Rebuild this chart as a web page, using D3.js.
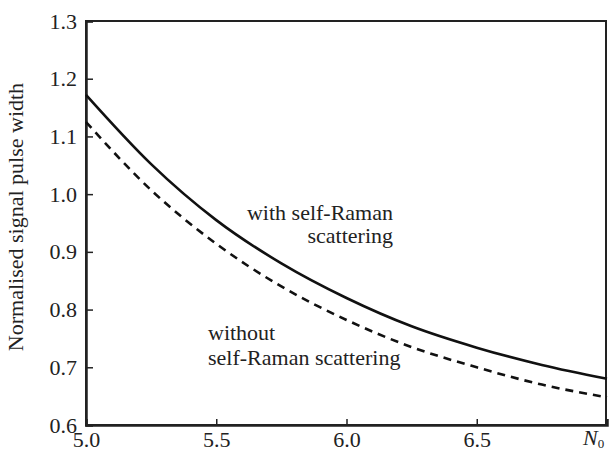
<!DOCTYPE html>
<html>
<head>
<meta charset="utf-8">
<script src="https://cdn.jsdelivr.net/npm/d3@7"></script>
<style>
  body { margin: 0; background: #fff; }
  svg text { font-family: "Liberation Serif", "DejaVu Serif", serif !important; fill: #222; }
</style>
</head>
<body>
<div id="chart"></div>
<script>
// values
const nValues = [5.0, 5.25, 5.5, 5.75, 6.0, 6.25, 6.5, 6.75, 7.0];
const withRaman = [1.172, 1.052, 0.955, 0.880, 0.820, 0.771, 0.734, 0.704, 0.680];
const withoutRaman = [1.125, 1.007, 0.914, 0.840, 0.782, 0.735, 0.700, 0.670, 0.648];
const xTicks = [5.0, 5.5, 6.0, 6.5];
const yTicks = [0.6, 0.7, 0.8, 0.9, 1.0, 1.1, 1.2, 1.3];

const W = 609, H = 451;
const margin = {top: 21, right: 2, bottom: 26, left: 86};
const fs = "22px";

const svg = d3.select("#chart").append("svg")
    .attr("width", W)
    .attr("height", H);

const x = d3.scaleLinear().domain([5.0, 7.0]).range([margin.left, W - margin.right]);
const y = d3.scaleLinear().domain([0.6, 1.3]).range([H - margin.bottom, margin.top]);

//frame
svg.append("rect")
    .attr("x", x(5.0)).attr("y", y(1.3))
    .attr("width", x(7.0) - x(5.0) - 1).attr("height", y(0.6) - y(1.3))
    .attr("fill", "none").attr("stroke", "#222").attr("stroke-width", 2);

//y axis
const yAxis = svg.append("g")
    .attr("transform", `translate(${x(5.0)},0)`)
    .call(d3.axisLeft(y).tickValues(yTicks).tickFormat(d3.format(".1f")).tickSize(-7).tickPadding(9))
    .attr("font-family", null).attr("font-size", null);
yAxis.select(".domain").attr("stroke", "#222").attr("stroke-width", 2.5);
yAxis.selectAll(".tick line").attr("stroke", "#222").attr("stroke-width", 1.5);
yAxis.selectAll(".tick text").style("font-size", fs).attr("fill", "#222");

//x axis
const xAxis = svg.append("g")
    .attr("transform", `translate(0,${y(0.6)})`)
    .call(d3.axisBottom(x).tickValues(xTicks).tickFormat(d3.format(".1f")).tickSize(-6).tickPadding(6))
    .attr("font-family", null).attr("font-size", null);
xAxis.select(".domain").attr("stroke", "#222").attr("stroke-width", 2.5);
xAxis.selectAll(".tick line").attr("stroke", "#222").attr("stroke-width", 1.5);
xAxis.selectAll(".tick text").style("font-size", fs).attr("fill", "#222");

//N0 label at the end of x axis
const n0 = svg.append("text")
    .attr("x", x(7.0) - 24)
    .attr("y", y(0.6) + 20)
    .style("font-size", fs);
n0.append("tspan").style("font-style", "italic").text("N");
n0.append("tspan").attr("dy", 3).style("font-size", "13px").text("0");

//y title
svg.append("text")
    .attr("transform", `translate(23,${(y(0.6) + y(1.3)) / 2 - 6}) rotate(-90)`)
    .attr("text-anchor", "middle")
    .style("font-size", fs)
    .text("Normalised signal pulse width");

const line = d3.line()
    .x((d, i) => x(nValues[i]))
    .y(d => y(d))
    .curve(d3.curveMonotoneX);

svg.append("path")
    .datum(withRaman)
    .attr("d", line)
    .attr("fill", "none")
    .attr("stroke", "#111")
    .attr("stroke-width", 2.6);

svg.append("path")
    .datum(withoutRaman)
    .attr("d", line)
    .attr("fill", "none")
    .attr("stroke", "#111")
    .attr("stroke-width", 2.6)
    .attr("stroke-dasharray", "8,6");

//annotations
svg.append("text").attr("x", 393).attr("y", 220).attr("text-anchor", "end")
    .style("font-size", fs).text("with self-Raman");
svg.append("text").attr("x", 393).attr("y", 243).attr("text-anchor", "end")
    .style("font-size", fs).text("scattering");
svg.append("text").attr("x", 208).attr("y", 340)
    .style("font-size", fs).text("without");
svg.append("text").attr("x", 208).attr("y", 365)
    .style("font-size", fs).text("self-Raman scattering");
</script>
</body>
</html>
